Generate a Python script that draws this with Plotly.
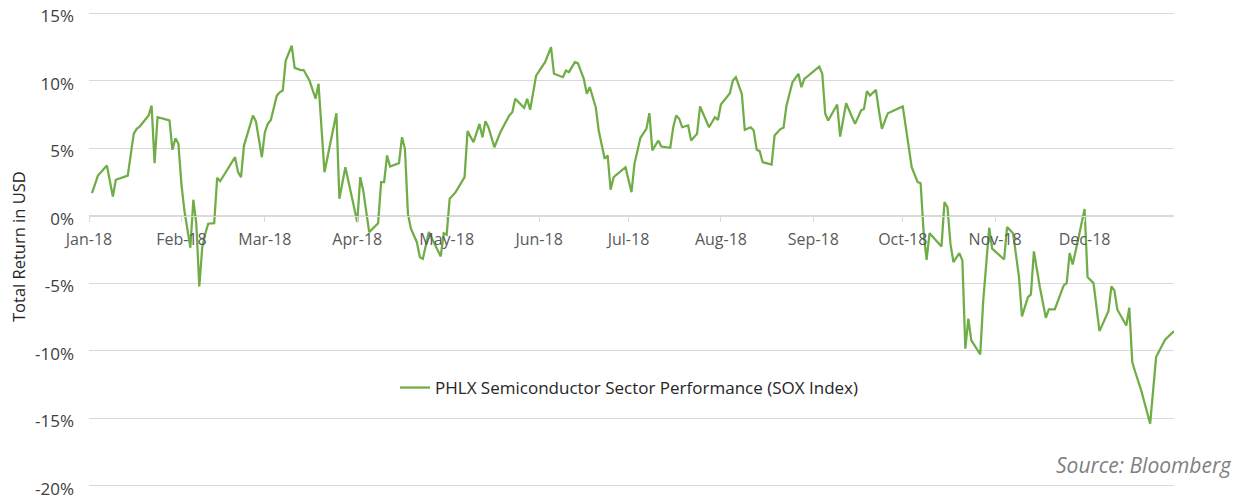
"""PHLX Semiconductor Sector (SOX) total return in 2018, recreated with Plotly."""

import pandas as pd
import plotly.graph_objects as go

# day offsets from 2018-01-01 of the turning points
day_offset = [
    1, 3, 6, 8, 9, 13, 15, 16, 17, 20, 21, 22, 23, 27, 28, 29, 30, 31, 32, 34,
    35, 36, 37, 38, 39, 40, 42, 43, 44, 49, 50, 51, 52, 55, 56, 58, 59, 60,
    61, 63, 64, 65, 66, 68, 69, 71, 72, 74, 76, 77, 79, 83, 84, 86, 90, 91,
    92, 94, 97, 98, 99, 100, 101, 104, 105, 106, 107, 108, 110, 111, 112, 114,
    118, 119, 120,
    121, 123, 124, 126, 127, 129, 131, 132, 133, 134, 136, 138, 141, 142, 143,
    146, 147, 148, 150, 152, 153, 155, 156, 159, 160, 161, 163, 164, 166, 167,
    168, 170, 171, 173, 174, 175, 176, 180,
    182, 183, 185, 187, 188, 189, 191, 192, 195, 196, 197, 198, 199, 201, 202,
    204, 205, 208, 210, 211, 212, 215, 216, 217, 219, 220, 222, 223, 224, 225,
    226, 229, 230, 232, 233, 234, 236, 238, 239, 240,
    245, 246, 247, 248, 251, 252, 254, 257, 259, 260, 261, 262, 264, 265, 266,
    268, 273, 276, 278, 279, 280, 281, 282, 286, 287, 288, 289, 290, 292, 293,
    294, 295, 296, 299, 300, 302,
    303, 307, 308, 310, 312, 313, 315, 316, 317, 319, 321, 322, 324, 327, 328,
    329, 330, 332, 334, 335, 337, 339, 342, 343, 344, 345, 348, 349, 350, 351,
    353, 356, 358, 361, 364,
]

# total return in %
sox_return = [
    1.67, 2.98, 3.72, 1.43, 2.67, 2.98, 6.07, 6.44, 6.61, 7.43, 8.17, 3.9, 7.3,
    7.06, 4.89, 5.75, 5.33, 2.37, 0.39, -2.37, 1.19, -0.59, -5.24, -2.32, -1.33,
    -0.59, -0.55, 2.81, 2.56, 4.34, 3.23, 2.86, 5.2, 7.43, 7.0, 4.34, 6.19, 6.81,
    7.1, 8.9, 9.15, 9.28, 11.5, 12.6, 10.96, 10.8, 10.8, 10.0, 8.67, 9.78, 3.23,
    7.6, 1.26, 3.6, -0.47, 2.86, 1.87, -1.21, -0.55, 2.49, 2.49, 4.47, 3.65, 3.9,
    5.82, 4.96, 0.15, -0.96, -1.96, -3.07, -3.19, -1.21, -3.01, -1.29, -1.4,
    1.26, 1.75, 2.12, 2.86, 6.27, 5.45, 6.81, 5.82, 7.0, 6.56, 5.08, 6.19, 7.43,
    7.67, 8.67, 8.0, 8.67, 7.85, 10.39, 11.06, 11.38, 12.49, 10.52, 10.27, 10.76,
    10.64, 11.38, 11.31, 10.15, 9.04, 9.53, 8.05, 6.32, 4.22, 4.47, 1.93, 2.86,
    3.6,
    1.75, 3.85, 5.78, 6.44, 7.6, 4.84, 5.58, 5.13, 5.04, 6.56, 7.43, 7.19, 6.56,
    6.69, 5.58, 6.07, 8.1, 6.56, 7.3, 7.1, 8.24, 9.08, 10.02, 10.27, 9.04, 6.37,
    6.56, 6.32, 4.89, 4.79, 3.97, 3.8, 5.95, 6.44, 6.52, 8.17, 9.9, 10.52, 9.53,
    10.15,
    11.06, 10.52, 7.56, 7.06, 8.24, 5.87, 8.34, 6.81, 7.8, 7.93, 9.23, 8.91,
    9.33, 7.8, 6.44, 7.6, 8.1, 3.6, 2.49, 2.41, -1.21, -3.26, -1.29, -2.27, 1.01,
    0.64, -2.07, -3.43, -2.77, -3.31, -9.85, -7.63, -9.23, -10.27, -6.3, -0.89,
    -2.44, -3.24, -0.84, -1.29, -4.54, -7.46, -6.03, -5.83, -2.64, -5.3, -7.56,
    -6.94, -6.94, -5.16, -4.99, -2.77, -3.61, -1.59, 0.5, -4.54, -4.99, -8.55,
    -7.07, -5.24, -5.53, -6.96, -8.13, -6.81, -10.84, -11.58, -12.94, -15.41,
    -10.47, -9.19, -8.55,
]

y_ticks = [15, 10, 5, 0, -5, -10, -15, -20]
y_tick_labels = ["15%", "10%", "5%", "0%", "-5%", "-10%", "-15%", "-20%"]

GREEN = "#70ad47"
GRID = "#d9d9d9"
FONT = "Open Sans"

# the page body adds an 8px offset, so the figure is drawn 8px smaller
W, H = 1231, 488
PLOT_L, PLOT_R = 81, 1166  # plot area in figure pixels
PLOT_T, PLOT_B = 4, 479    # y range padded a touch so the edge gridlines show
Y_MIN, Y_MAX = -20.1, 15.1


def px_x(x):
    return (x - PLOT_L) / (PLOT_R - PLOT_L)


def px_y(y):
    return (PLOT_B - y) / (PLOT_B - PLOT_T)


dates = pd.Timestamp("2018-01-01") + pd.to_timedelta(day_offset, unit="D")

fig = go.Figure()
fig.add_trace(
    go.Scatter(
        x=dates,
        y=sox_return,
        mode="lines",
        name="PHLX Semiconductor Sector Performance (SOX Index)",
        line=dict(color=GREEN, width=2.25),
    )
)

fig.update_layout(
    width=W,
    height=H,
    margin=dict(l=PLOT_L, r=W - PLOT_R, t=PLOT_T, b=H - PLOT_B, autoexpand=False),
    paper_bgcolor="white",
    plot_bgcolor="white",
    font=dict(family=FONT, size=16, color="#404040"),
    showlegend=True,
    legend=dict(
        orientation="h",
        x=px_x(387),
        xanchor="left",
        y=px_y(380),
        yanchor="middle",
        font=dict(family=FONT, size=17, color="#262626"),
        bgcolor="rgba(0,0,0,0)",
    ),
    xaxis=dict(
        type="date",
        range=["2018-01-01", "2018-12-31"],
        tick0="2018-01-01",
        dtick="M1",
        tickformat="%b-%y",
        anchor="free",
        position=(0 - Y_MIN) / (Y_MAX - Y_MIN),
        automargin=False,
        showgrid=False,
        showline=True,
        linecolor=GRID,
        linewidth=1,
        ticks="outside",
        ticklen=5,
        tickcolor=GRID,
        ticklabelstandoff=4,
        tickfont=dict(family=FONT, size=16, color="#595959"),
        zeroline=False,
    ),
    yaxis=dict(
        range=[Y_MIN, Y_MAX],
        tickvals=y_ticks,
        ticktext=y_tick_labels,
        automargin=False,
        ticklabeloverflow="allow",
        ticklabelshift=3,
        showgrid=True,
        gridcolor=GRID,
        gridwidth=1,
        zeroline=False,
        showline=False,
        ticks="",
        ticklabelstandoff=14,
        tickfont=dict(family=FONT, size=17, color="#404040"),
    ),
)

fig.add_annotation(
    text="Total Return in USD",
    textangle=-90,
    xref="paper",
    yref="paper",
    x=px_x(10),
    y=px_y(239),
    xanchor="center",
    yanchor="middle",
    showarrow=False,
    font=dict(family=FONT, size=16.5, color="#262626"),
)

fig.add_annotation(
    text="Source: Bloomberg",
    xref="paper",
    yref="paper",
    x=px_x(1226),
    y=px_y(457),
    xanchor="right",
    yanchor="middle",
    showarrow=False,
    font=dict(family=FONT, size=21, color="#808080", style="italic"),
)

fig.write_html("out.html")
